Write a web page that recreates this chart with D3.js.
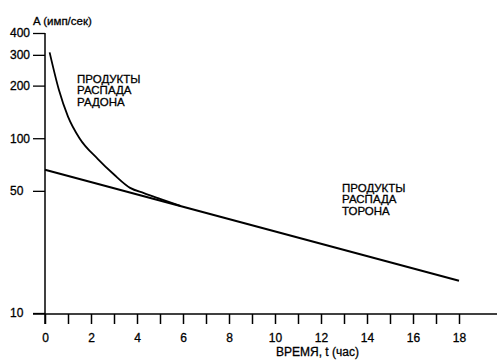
<!DOCTYPE html>
<html>
<head>
<meta charset="utf-8">
<script src="https://cdn.jsdelivr.net/npm/d3@7"></script>
<style>
  html, body { margin: 0; padding: 0; background: #fff; }
  svg { display: block; }
  text { font-family: "Liberation Sans", Arial, sans-serif; fill: #000; stroke: #000; stroke-width: 0.3px; }
</style>
</head>
<body>
<svg id="chart" width="497" height="360"></svg>
<script>
// ---- data ----
const xTicks = [0,1,2,3,4,5,6,7,8,9,10,11,12,13,14,15,16,17,18];
const yTicks = [10, 50, 100, 200, 300, 400];
const radonT = [0.2, 0.6, 1.0, 1.5, 2.3, 3.0, 3.7, 4.3, 5.0, 5.9];
const radonA = [310, 190, 133, 100, 76, 62, 52, 48.5, 45, 41];
const thoronT = [0, 18];
const thoronA = [66, 15.3];
const yTitle = "A (имп/сек)";
const xTitle = "ВРЕМЯ, t (час)";
const radonLabel = ["ПРОДУКТЫ", "РАСПАДА", "РАДОНА"];
const thoronLabel = ["ПРОДУКТЫ", "РАСПАДА", "ТОРОНА"];

// ---- chart ----
const svg = d3.select("#chart");
const x = d3.scaleLinear().domain([0, 18]).range([45, 459]);
const y = d3.scaleLog().domain([10, 400]).range([313, 33]);
const axisY = 314;

// x axis
const gx = svg.append("g").attr("transform", `translate(0,${axisY})`)
  .call(d3.axisBottom(x).tickValues(xTicks).tickSize(10)
    .tickFormat(d => d % 2 === 0 ? d : ""));
gx.select(".domain").remove();
gx.selectAll(".tick line").attr("stroke", "#000").attr("stroke-width", 1.5);
gx.selectAll(".tick text").attr("y", 28).attr("dy", 0)
  .style("font-size", "12px").style("font-family", "Liberation Sans, Arial, sans-serif");
svg.append("line").attr("x1", 33).attr("x2", 497).attr("y1", axisY).attr("y2", axisY)
  .attr("stroke", "#000").attr("stroke-width", 1.5);

// y axis
const gy = svg.append("g").attr("transform", `translate(45,0)`)
  .call(d3.axisLeft(y).tickValues(yTicks).tickSize(12).tickFormat(d3.format("d")));
gy.select(".domain").remove();
gy.selectAll(".tick line").attr("stroke", "#000").attr("stroke-width", 1.3);
gy.selectAll(".tick text").attr("x", -35).attr("text-anchor", "start")
  .style("font-size", "12px").style("font-family", "Liberation Sans, Arial, sans-serif");
svg.append("line").attr("x1", 45).attr("x2", 45).attr("y1", y(400)).attr("y2", axisY + 10)
  .attr("stroke", "#000").attr("stroke-width", 1.5);

// lines
const line = d3.line().x(d => x(d[0])).y(d => y(d[1]));
svg.append("path").datum(thoronT.map((t, i) => [t, thoronA[i]]))
  .attr("d", line).attr("fill", "none").attr("stroke", "#000").attr("stroke-width", 2);
svg.append("path").datum(radonT.map((t, i) => [t, radonA[i]]))
  .attr("d", line.curve(d3.curveMonotoneX)).attr("fill", "none")
  .attr("stroke", "#000").attr("stroke-width", 1.8);

// texts
svg.append("text").attr("x", 33).attr("y", 25).style("font-size", "11.5px").text(yTitle);
svg.append("text").attr("x", 276).attr("y", 356).style("font-size", "12px").text(xTitle);
radonLabel.forEach((s, i) => svg.append("text").attr("x", 77).attr("y", 83 + i * 11.3)
  .style("font-size", "11.5px").text(s));
thoronLabel.forEach((s, i) => svg.append("text").attr("x", 342).attr("y", 192 + i * 11.3)
  .style("font-size", "11.5px").text(s));
</script>
</body>
</html>
